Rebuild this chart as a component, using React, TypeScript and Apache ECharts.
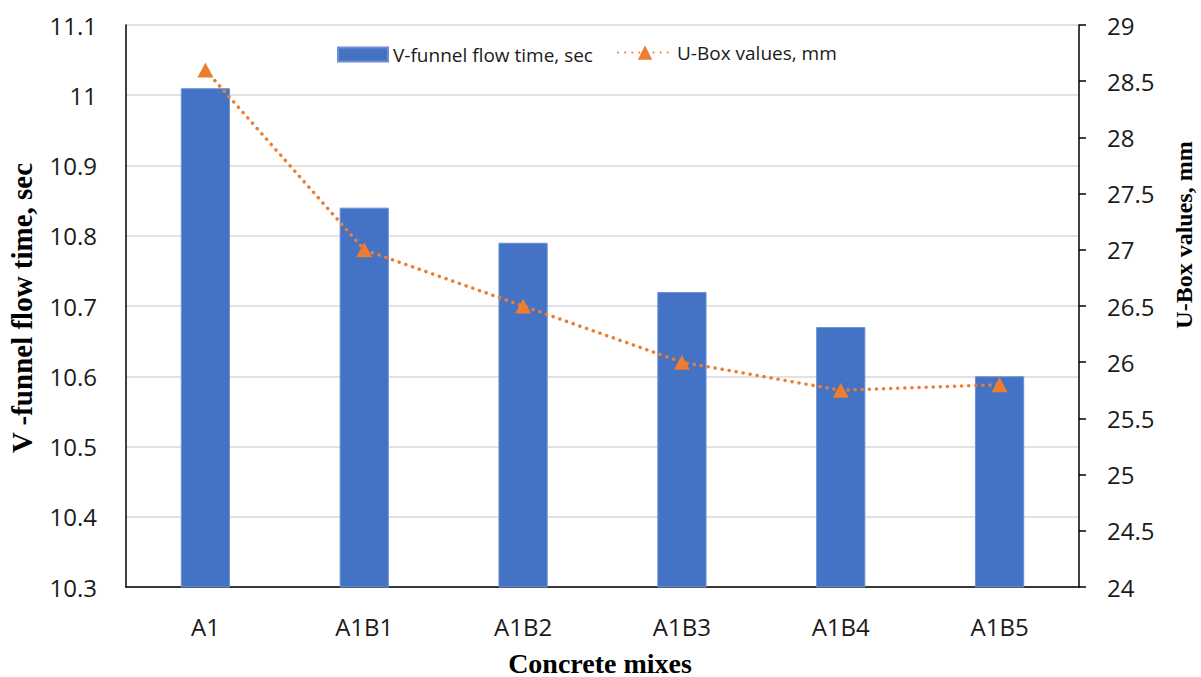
import React, { useEffect, useRef } from "react";
import * as echarts from "echarts";

// Concrete mix designations along the x axis
const mixes = ["A1", "A1B1", "A1B2", "A1B3", "A1B4", "A1B5"];
// V-funnel flow time (sec), left axis
const vFunnelTime = [11.01, 10.84, 10.79, 10.72, 10.67, 10.6];
// U-Box values (mm), right axis
const uBoxValues = [28.6, 27.0, 26.5, 26.0, 25.75, 25.8];

const barName = "V-funnel flow time, sec";
const lineName = "U-Box values, mm";

const tickFont = "'Open Sans', 'Liberation Sans', sans-serif";
const titleFont = "'Liberation Serif', 'Times New Roman', serif";

export default function App() {
  const ref = useRef<HTMLDivElement>(null);

  useEffect(() => {
    if (!ref.current) return;
    const chart = echarts.init(ref.current, undefined, { renderer: "svg" });
    chart.setOption({
      animation: false,
      backgroundColor: "#ffffff",
      grid: { left: 126, right: 122, top: 25, bottom: 90, containLabel: false },
      legend: [
        {
          data: [barName],
          left: 332,
          top: 40,
          itemWidth: 50,
          itemHeight: 14,
          icon: "rect",
          textStyle: { fontFamily: tickFont, fontSize: 19, color: "#1a1a1a" },
        },
        {
          data: [lineName],
          left: 612,
          top: 38,
          itemWidth: 54,
          itemHeight: 18,
          textStyle: { fontFamily: tickFont, fontSize: 19, color: "#1a1a1a" },
        },
      ],
      xAxis: {
        type: "category",
        data: mixes,
        axisLine: { lineStyle: { color: "#000", width: 1.5 } },
        axisTick: { show: false },
        axisLabel: { fontFamily: tickFont, fontSize: 24, color: "#1a1a1a", margin: 27 },
      },
      yAxis: [
        {
          type: "value",
          min: 10.3,
          max: 11.1,
          interval: 0.1,
          axisLine: { show: true, lineStyle: { color: "#000", width: 1.5 } },
          axisTick: { show: false },
          splitLine: { lineStyle: { color: "#d9d9d9", width: 1.5 } },
          axisLabel: {
            fontFamily: tickFont,
            fontSize: 24,
            color: "#1a1a1a",
            margin: 29,
            formatter: (v: number) => String(parseFloat(v.toFixed(1))),
          },
        },
        {
          type: "value",
          min: 24,
          max: 29,
          interval: 0.5,
          position: "right",
          axisLine: { show: true, lineStyle: { color: "#000", width: 1.5 } },
          axisTick: { show: true, inside: false, length: 7, lineStyle: { color: "#000", width: 1.5 } },
          splitLine: { show: false },
          axisLabel: {
            fontFamily: tickFont,
            fontSize: 24,
            color: "#1a1a1a",
            margin: 28,
            formatter: (v: number) => String(parseFloat(v.toFixed(1))),
          },
        },
      ],
      series: [
        {
          name: barName,
          type: "bar",
          data: vFunnelTime,
          yAxisIndex: 0,
          barWidth: "31%",
          itemStyle: { color: "#4472c4", borderColor: "#6d90d2", borderWidth: 1 },
        },
        {
          name: lineName,
          type: "line",
          data: uBoxValues,
          yAxisIndex: 1,
          symbol: "triangle",
          symbolSize: [16, 15],
          itemStyle: { color: "#ed7d31" },
          lineStyle: { color: "#ed7d31", width: 3.5, type: [0.1, 7], cap: "round" },
        },
      ],
      graphic: [
        {
          type: "text",
          x: 22,
          y: 308,
          rotation: Math.PI / 2,
          style: {
            text: "V -funnel flow time, sec",
            font: `bold 29px ${titleFont}`,
            fill: "#000",
            align: "center",
            verticalAlign: "middle",
          },
        },
        {
          type: "text",
          x: 1184,
          y: 235,
          rotation: Math.PI / 2,
          style: {
            text: "U-Box values, mm",
            font: `bold 24px ${titleFont}`,
            fill: "#000",
            align: "center",
            verticalAlign: "middle",
          },
        },
        {
          type: "text",
          x: 600,
          y: 663,
          style: {
            text: "Concrete mixes",
            font: `bold 28px ${titleFont}`,
            fill: "#000",
            align: "center",
            verticalAlign: "middle",
          },
        },
      ],
    });
    return () => chart.dispose();
  }, []);

  return (
    <div
      ref={ref}
      style={{ position: "fixed", left: 0, top: 0, width: 1201, height: 677, background: "#fff" }}
    />
  );
}
